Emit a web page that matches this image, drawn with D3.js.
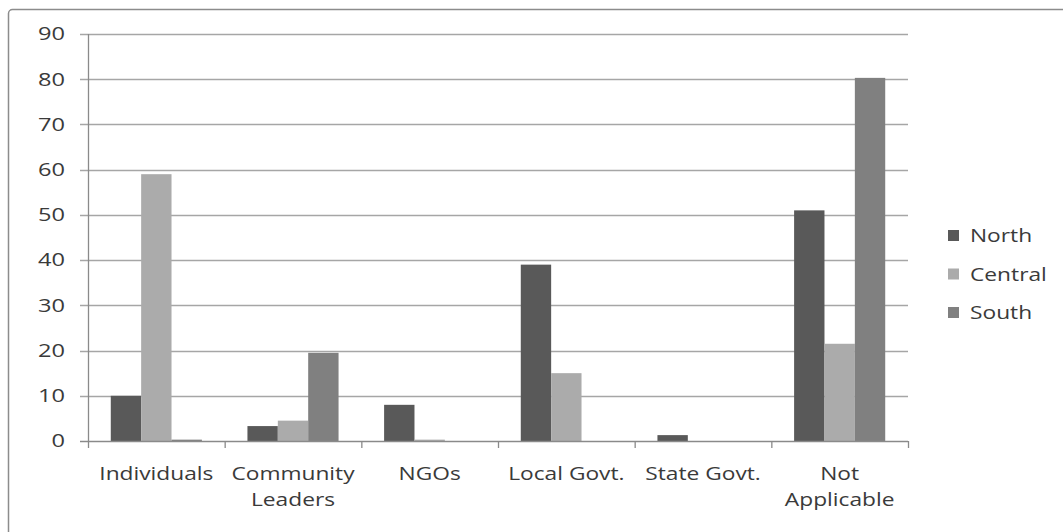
<!DOCTYPE html>
<html>
<head>
<meta charset="utf-8">
<script src="https://cdn.jsdelivr.net/npm/d3@7"></script>
<style>
  body { margin: 0; background: #fff; }
  svg text { font-family: "Open Sans", "Liberation Sans", sans-serif; fill: #3a3a3a; }
</style>
</head>
<body>
<svg width="1063" height="532"></svg>
<script>
const categories = [["Individuals"], ["Community", "Leaders"], ["NGOs"], ["Local Govt."], ["State Govt."], ["Not", "Applicable"]];
const seriesNames = ["North", "Central", "South"];
const north = [10, 3.3, 8, 39, 1.3, 51];
const central = [59, 4.5, 0.3, 15, 0, 21.5];
const south = [0.3, 19.5, 0, 0, 0, 80.3];
const yTicks = [0, 10, 20, 30, 40, 50, 60, 70, 80, 90];
const colors = ["#595959", "#ababab", "#808080"];

const svg = d3.select("svg");
const margin = { left: 88, right: 155, top: 34, bottom: 91 };
const width = 1063, height = 532;
const stretch = 1.3; // the source text is drawn wide

// outer frame (clipped at right/bottom like the original)
svg.append("rect")
  .attr("x", 8.5).attr("y", 9.5)
  .attr("width", 1100).attr("height", 600)
  .attr("rx", 4)
  .attr("fill", "none")
  .attr("stroke", "#8c8c8c")
  .attr("stroke-width", 1.5);

const x0 = d3.scaleBand()
  .domain(d3.range(categories.length))
  .range([margin.left, width - margin.right]);

const x1 = d3.scaleBand()
  .domain(d3.range(seriesNames.length))
  .range([0, x0.bandwidth()])
  .paddingInner(0)
  .paddingOuter(0.75);

const y = d3.scaleLinear()
  .domain([0, 90])
  .range([height - margin.bottom, margin.top]);

// gridlines
svg.append("g")
  .selectAll("line")
  .data(yTicks.slice(1))
  .join("line")
  .attr("x1", margin.left - 8)
  .attr("x2", width - margin.right)
  .attr("y1", d => Math.round(y(d)) + 0.5)
  .attr("y2", d => Math.round(y(d)) + 0.5)
  .attr("stroke", "#a6a6a6")
  .attr("stroke-width", 1.3);

// y labels
svg.append("g")
  .selectAll("text")
  .data(yTicks)
  .join("text")
  .attr("transform", d => `translate(65,${y(d)}) scale(1.35,1)`)
  .attr("dy", "0.36em")
  .attr("text-anchor", "end")
  .attr("font-size", 17.5)
  .text(d => d);

// bars
const series = [north, central, south];
const groups = svg.append("g")
  .selectAll("g")
  .data(categories.map((c, i) => series.map((s, j) => ({ i, j, v: s[i] }))))
  .join("g")
  .attr("transform", (d, i) => `translate(${x0(i)},0)`);

groups.selectAll("rect")
  .data(d => d)
  .join("rect")
  .attr("x", d => x1(d.j))
  .attr("width", x1.bandwidth())
  .attr("y", d => y(d.v))
  .attr("height", d => y(0) - y(d.v))
  .attr("fill", d => colors[d.j]);

// axes lines
const axisColor = "#8a8a8a";
svg.append("line")
  .attr("x1", margin.left + 0.5).attr("x2", margin.left + 0.5)
  .attr("y1", margin.top).attr("y2", y(0))
  .attr("stroke", axisColor).attr("stroke-width", 1.3);
svg.append("line")
  .attr("x1", margin.left - 8).attr("x2", width - margin.right)
  .attr("y1", Math.round(y(0)) + 0.5).attr("y2", Math.round(y(0)) + 0.5)
  .attr("stroke", axisColor).attr("stroke-width", 1.3);
svg.append("g")
  .selectAll("line")
  .data(d3.range(categories.length + 1))
  .join("line")
  .attr("x1", i => x0.step() * i + margin.left + 0.5)
  .attr("x2", i => x0.step() * i + margin.left + 0.5)
  .attr("y1", y(0))
  .attr("y2", y(0) + 7)
  .attr("stroke", axisColor).attr("stroke-width", 1.3);

// category labels
const labels = svg.append("g")
  .selectAll("text")
  .data(categories)
  .join("text")
  .attr("transform", (d, i) => `translate(${x0(i) + x0.bandwidth() / 2},480) scale(${stretch},1)`)
  .attr("text-anchor", "middle")
  .attr("font-size", 17.5);
labels.selectAll("tspan")
  .data(d => d)
  .join("tspan")
  .attr("x", 0)
  .attr("y", (d, k) => k * 26)
  .text(d => d);

// legend
const legend = svg.append("g")
  .selectAll("g")
  .data(seriesNames)
  .join("g")
  .attr("transform", (d, i) => `translate(948,${242 + i * 38.5})`);
legend.append("rect")
  .attr("x", 0).attr("y", -12)
  .attr("width", 11).attr("height", 11)
  .attr("fill", (d, i) => colors[i]);
legend.append("text")
  .attr("transform", `translate(22,0) scale(${stretch},1)`)
  .attr("font-size", 17.5)
  .text(d => d);
</script>
</body>
</html>
